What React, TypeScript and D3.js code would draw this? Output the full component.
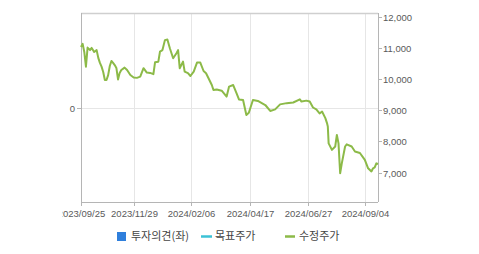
import React from "react";
import * as d3 from "d3";

const priceDates: string[] = [
  "2023-09-25","2023-09-27","2023-09-29","2023-10-01","2023-10-03","2023-10-06","2023-10-08","2023-10-11","2023-10-14","2023-10-16",
  "2023-10-18","2023-10-20","2023-10-22","2023-10-24","2023-10-26","2023-10-28","2023-10-30","2023-11-01","2023-11-03","2023-11-05",
  "2023-11-07","2023-11-09","2023-11-11","2023-11-13","2023-11-17","2023-11-20","2023-11-24","2023-11-28","2023-12-02","2023-12-06",
  "2023-12-10","2023-12-14","2023-12-18","2023-12-22","2023-12-24","2023-12-28","2023-12-30","2024-01-02","2024-01-05","2024-01-08",
  "2024-01-11","2024-01-15","2024-01-19","2024-01-21","2024-01-23","2024-01-27","2024-01-29","2024-02-02","2024-02-05","2024-02-09",
  "2024-02-13","2024-02-17","2024-02-21","2024-02-24","2024-02-27","2024-03-02","2024-03-04","2024-03-08","2024-03-14","2024-03-20",
  "2024-03-23","2024-03-28","2024-04-01","2024-04-04","2024-04-09","2024-04-13","2024-04-16","2024-04-21","2024-04-27","2024-05-06",
  "2024-05-12","2024-05-18","2024-05-24","2024-06-01","2024-06-09","2024-06-17","2024-06-19","2024-06-25","2024-06-29","2024-07-03",
  "2024-07-07","2024-07-11","2024-07-14","2024-07-18","2024-07-20","2024-07-21","2024-07-22","2024-07-26","2024-07-30","2024-08-01",
  "2024-08-03","2024-08-05","2024-08-07","2024-08-11","2024-08-13","2024-08-19","2024-08-23","2024-08-29","2024-09-04","2024-09-08",
  "2024-09-12","2024-09-14","2024-09-16","2024-09-18","2024-09-20"
];

const priceValues: number[] = [
  11030,11130,10870,10400,11010,10930,11000,10870,10930,10680,
  10520,10400,10230,9970,9970,10130,10420,10580,10520,10450,
  10360,9990,10200,10290,10370,10290,10130,10050,10040,10080,
  10350,10210,10200,10160,10540,10560,10880,10930,11250,11270,
  10990,10670,10830,10930,10350,10560,10240,10190,10100,10240,
  10530,10530,10260,10190,10030,9810,9650,9670,9630,9440,
  9760,9810,9550,9350,9330,8850,8920,9330,9300,9170,
  8980,9030,9190,9230,9250,9350,9280,9310,9280,9090,
  9030,8900,8960,8750,8590,8480,7940,7730,7840,8210,
  7940,6980,7300,7840,7910,7840,7680,7630,7410,7140,
  7040,7140,7170,7300,7280
];

const xTickLabels: string[] = ["2023/09/25","2023/11/29","2024/02/06","2024/04/17","2024/06/27","2024/09/04"];
const rightTicks: number[] = [7000, 8000, 9000, 10000, 11000, 12000];
const leftTicks: number[] = [0];
const legendLabels: string[] = ["투자의견(좌)", "목표주가", "수정주가"];

const W = 479, H = 254;
const L = 81, R = 378, T = 13, B = 202;

export default function App() {
  const parse = d3.timeParse("%Y-%m-%d");
  const parseTick = d3.timeParse("%Y/%m/%d");
  const data = priceDates.map((d, i) => ({ date: parse(d) as Date, v: priceValues[i] }));
  const x = d3.scaleTime()
    .domain([parse("2023-09-25") as Date, parse("2024-09-20") as Date])
    .range([L, R]);
  const yR = d3.scaleLinear().domain([6060, 12120]).range([B, T]);
  const yL = d3.scaleLinear().domain([-1, 1]).range([B, T]);
  const line = d3.line<{ date: Date; v: number }>()
    .x(d => x(d.date))
    .y(d => yR(d.v));
  const font = "'Liberation Sans', Arial, sans-serif";
  const tickColor = "#5a5a5a";
  const green = "#8cba48";

  return (
    <svg width={W} height={H} style={{ position: "absolute", left: 0, top: 0, background: "#fff" }}>
      <defs>
        <clipPath id="lblclip">
          <rect x={62.5} y={0} width={W - 62.5} height={H} />
        </clipPath>
      </defs>
      {xTickLabels.map((t, i) => {
        const xx = Math.round(x(parseTick(t) as Date)) + 0.5;
        return <line key={"vg" + i} x1={xx} x2={xx} y1={T} y2={B} stroke="#e6e6e6" strokeWidth={1} />;
      })}
      {leftTicks.map((t, i) => {
        const yy = Math.round(yL(t)) + 0.5;
        return <line key={"hg" + i} x1={L} x2={R} y1={yy} y2={yy} stroke="#e6e6e6" strokeWidth={1} />;
      })}
      <line x1={L} x2={R} y1={T + 0.5} y2={T + 0.5} stroke="#cfcfcf" strokeWidth={1.5} />
      <line x1={L + 0.5} x2={L + 0.5} y1={T} y2={B} stroke="#b5b5b5" strokeWidth={1} />
      <line x1={R + 0.5} x2={R + 0.5} y1={T} y2={B} stroke="#b5b5b5" strokeWidth={1} />
      <line x1={L} x2={R} y1={B + 0.5} y2={B + 0.5} stroke="#b5b5b5" strokeWidth={1} />
      <path d={line(data) || ""} fill="none" stroke={green} strokeWidth={2} strokeLinejoin="round" />
      {rightTicks.map((t, i) => {
        const yy = Math.round(yR(t)) + 0.5;
        return (
          <g key={"rt" + i}>
            <line x1={R} x2={R + 4} y1={yy} y2={yy} stroke="#b5b5b5" />
            <text x={R + 5} y={yy} dy="0.35em" fontSize={9.5} fontFamily={font} fill={tickColor}>
              {d3.format(",")(t)}
            </text>
          </g>
        );
      })}
      {leftTicks.map((t, i) => {
        const yy = Math.round(yL(t)) + 0.5;
        return (
          <g key={"lt" + i}>
            <line x1={L - 4} x2={L} y1={yy} y2={yy} stroke="#b5b5b5" />
            <text x={L - 6} y={yy} dy="0.35em" textAnchor="end" fontSize={9.5} fontFamily={font} fill={tickColor}>
              {t}
            </text>
          </g>
        );
      })}
      <g clipPath="url(#lblclip)">
        {xTickLabels.map((t, i) => {
          const xx = Math.round(x(parseTick(t) as Date)) + 0.5;
          return (
            <g key={"xt" + i}>
              <line x1={xx} x2={xx} y1={B} y2={B + 4} stroke="#b5b5b5" />
              <text x={xx} y={214} dy="0.35em" textAnchor="middle" fontSize={9.5} fontFamily={font} fill={tickColor}>
                {t}
              </text>
            </g>
          );
        })}
      </g>
      <g fontFamily="'Noto Sans CJK KR', sans-serif" fontSize={11} fill="#444">
        <rect x={117} y={232} width={9} height={9} fill="#2f7fdc" />
        <text x={131} y={236.5} dy="0.35em">{legendLabels[0]}</text>
        <line x1={201} x2={212} y1={236.5} y2={236.5} stroke="#3cc2d6" strokeWidth={2.5} />
        <text x={215} y={236.5} dy="0.35em">{legendLabels[1]}</text>
        <line x1={285} x2={295} y1={236.5} y2={236.5} stroke={green} strokeWidth={2.5} />
        <text x={299} y={236.5} dy="0.35em">{legendLabels[2]}</text>
      </g>
    </svg>
  );
}
